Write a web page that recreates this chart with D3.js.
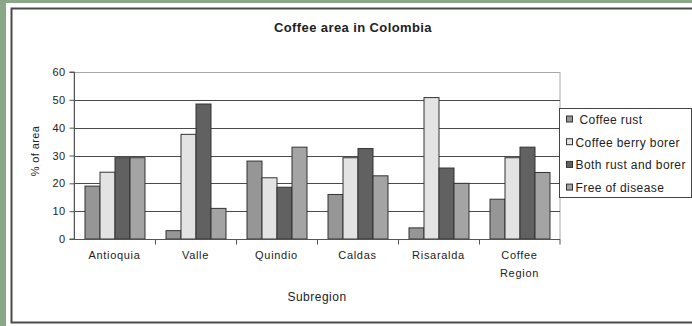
<!DOCTYPE html>
<html>
<head>
<meta charset="utf-8">
<script src="https://cdn.jsdelivr.net/npm/d3@7"></script>
<style>
  html, body { margin: 0; padding: 0; background: #8aa787; }
  svg { display: block; }
  text { font-family: "Liberation Sans", Arial, sans-serif; fill: #222; }
</style>
</head>
<body>
<svg id="chart" width="692" height="326"></svg>
<script>
// Share of coffee area (%) by subregion and plant health status
const subregions = ["Antioquia", "Valle", "Quindio", "Caldas", "Risaralda", "Coffee Region"];
const seriesNames = ["Coffee rust", "Coffee berry borer", "Both rust and borer", "Free of disease"];
const coffeeRust   = [19, 3, 28, 16, 4, 14.3];
const berryBorer   = [24, 37.6, 22, 29.2, 50.8, 29.2];
const rustAndBorer = [29.2, 48.5, 18.6, 32.5, 25.5, 33];
const freeOfDisease = [29.2, 11, 33, 22.7, 20, 23.9];
const yTicks = [0, 10, 20, 30, 40, 50, 60];
const seriesFill = ["#969696", "#e3e3e3", "#616161", "#a4a4a4"];

const seriesValues = [coffeeRust, berryBorer, rustAndBorer, freeOfDisease];
const rows = subregions.map((name, i) => ({
  name,
  values: seriesValues.map((vals, s) => ({ key: seriesNames[s], s, v: vals[i] }))
}));

const svg = d3.select("#chart");

// white mat and framed chart area
svg.append("rect").attr("x", 6).attr("y", 3).attr("width", 700).attr("height", 330).attr("fill", "#ffffff");
svg.append("rect").attr("x", 11.5).attr("y", 8.5).attr("width", 690).attr("height", 314)
  .attr("fill", "#ffffff").attr("stroke", "#4a4a4a").attr("stroke-width", 2);

const plot = { left: 74, right: 560, top: 72, bottom: 239 };

const x0 = d3.scaleBand().domain(subregions).range([plot.left, plot.right]).paddingInner(0).paddingOuter(0);
const x1 = d3.scaleBand().domain(d3.range(seriesNames.length))
  .range([10.5, x0.bandwidth() - 10.5]).padding(0);
const y = d3.scaleLinear().domain([0, 60]).range([plot.bottom, plot.top]);

// plot frame (light) and gridlines
svg.append("rect").attr("x", plot.left).attr("y", y(60) + 0.5)
  .attr("width", plot.right - plot.left).attr("height", plot.bottom - y(60))
  .attr("fill", "none").attr("stroke", "#a8a8a8").attr("stroke-width", 1);

svg.append("g").selectAll("line").data(yTicks.filter(t => t > 0 && t < 60)).join("line")
  .attr("x1", plot.left).attr("x2", plot.right)
  .attr("y1", d => Math.round(y(d)) + 0.5).attr("y2", d => Math.round(y(d)) + 0.5)
  .attr("stroke", "#4a4a4a").attr("stroke-width", 1);

// bars
const groups = svg.append("g").selectAll("g").data(rows).join("g")
  .attr("transform", d => `translate(${x0(d.name)},0)`);
groups.selectAll("rect").data(d => d.values).join("rect")
  .attr("x", d => x1(d.s) + 0.5)
  .attr("width", x1.bandwidth())
  .attr("y", d => y(d.v))
  .attr("height", d => y(0) - y(d.v))
  .attr("fill", d => seriesFill[d.s])
  .attr("stroke", "#333").attr("stroke-width", 1);

// y axis
const yAxis = svg.append("g").attr("transform", `translate(${plot.left + 0.5},0)`)
  .call(d3.axisLeft(y).tickValues(yTicks).tickSize(5).tickPadding(4));
yAxis.select(".domain").attr("stroke", "#555").attr("d", `M-5,${y(60)}H0V${y(0)}H-5`);
yAxis.selectAll(".tick line").attr("stroke", "#555");
yAxis.selectAll(".tick text").attr("font-size", 11).attr("fill", "#222")
  .attr("letter-spacing", 0.4)
  .style("font-family", "'Liberation Sans', Arial, sans-serif");

// x axis: ticks at category boundaries
const xAxisG = svg.append("g").attr("transform", `translate(0,${plot.bottom + 0.5})`);
xAxisG.append("line").attr("x1", plot.left).attr("x2", plot.right).attr("stroke", "#555");
xAxisG.selectAll("line.tk").data(subregions.slice(1).concat(["end"])).join("line")
  .attr("class", "tk")
  .attr("x1", d => d === "end" ? plot.right : Math.round(x0(d)) + 0.5)
  .attr("x2", d => d === "end" ? plot.right : Math.round(x0(d)) + 0.5)
  .attr("y1", 0).attr("y2", 5).attr("stroke", "#555");

const catLabels = svg.append("g").selectAll("text").data(subregions).join("text")
  .attr("x", d => x0(d) + x0.bandwidth() / 2)
  .attr("y", 259)
  .attr("text-anchor", "middle")
  .attr("font-size", 11)
  .attr("letter-spacing", 0.7);
catLabels.each(function(d) {
  const words = d === "Coffee Region" ? ["Coffee", "Region"] : [d];
  const t = d3.select(this);
  words.forEach((w, i) => t.append("tspan").attr("x", x0(d) + x0.bandwidth() / 2).attr("dy", i === 0 ? 0 : 18).text(w));
});

// titles
svg.append("text").attr("x", 353).attr("y", 32).attr("text-anchor", "middle")
  .attr("font-size", 13).attr("font-weight", "bold").attr("letter-spacing", 0.4)
  .text("Coffee area in Colombia");
svg.append("text").attr("x", (plot.left + plot.right) / 2).attr("y", 301).attr("text-anchor", "middle")
  .attr("font-size", 12).attr("letter-spacing", 0.5).text("Subregion");
svg.append("text").attr("transform", `translate(39,151) rotate(-90)`)
  .attr("text-anchor", "middle").attr("font-size", 11).attr("letter-spacing", 0.4).text("% of area");

// legend
const legend = svg.append("g").attr("transform", "translate(559.5,108.5)");
legend.append("rect").attr("width", 132).attr("height", 89)
  .attr("fill", "#ffffff").attr("stroke", "#444").attr("stroke-width", 1);
const li = legend.selectAll("g").data(seriesNames).join("g")
  .attr("transform", (d, i) => `translate(7,${11 + i * 22.7})`);
li.append("rect").attr("x", 0).attr("y", -3.5).attr("width", 6).attr("height", 6)
  .attr("fill", (d, i) => seriesFill[i]).attr("stroke", "#333");
li.append("text").attr("x", (d, i) => i === 0 ? 13 : 9).attr("y", 4.5)
  .attr("font-size", 12).attr("letter-spacing", 0.4).text(d => d);
</script>
</body>
</html>
